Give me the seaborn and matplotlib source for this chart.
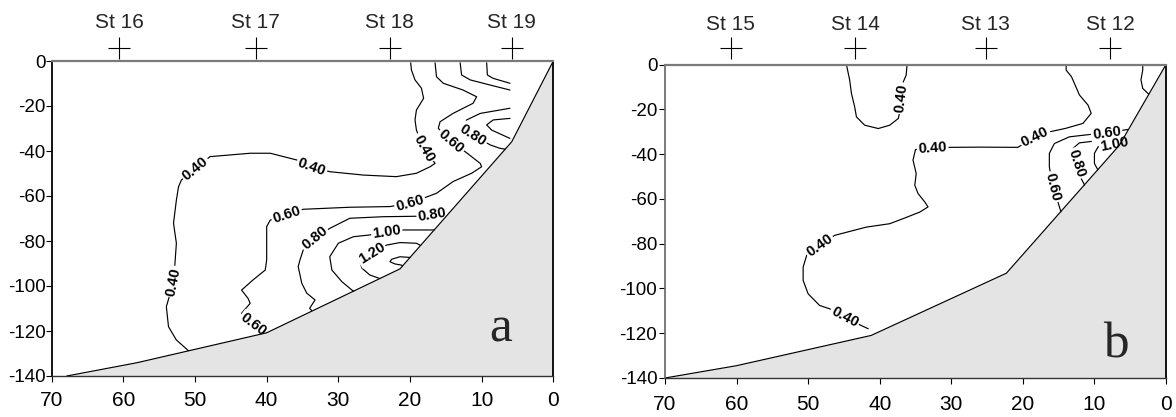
import numpy as np
import matplotlib
matplotlib.use("Agg")
import matplotlib.pyplot as plt
import matplotlib.transforms as mtransforms
import seaborn as sns

sns.set_theme(style="white")
plt.rcParams["font.family"] = ["Liberation Sans", "DejaVu Sans"]

# ---------------- data: panel a ----------------
stations_a = ["St 16", "St 17", "St 18", "St 19"]
station_x_a = [60.6, 41.5, 22.8, 5.8]
bottom_a = [(67.9, -140.0), (58.1, -134.1), (40.0, -120.8), (21.4, -92.4), (5.8, -35.9), (0.0, 0.0)]

A_040 = [(19.9, -0.8), (19.8, -4.0), (19.3, -8.4), (18.4, -12.1), (18.1, -16.6), (19.1, -21.8),
         (19.3, -26.2), (19.1, -30.7), (18.1, -38.8), (16.5, -45.5), (17.2, -47.0), (19.1, -49.9),
         (21.9, -51.4), (26.5, -50.7), (31.2, -49.2), (33.7, -47.0), (35.8, -44.0), (39.5, -41.0),
         (42.3, -41.0), (47.9, -42.5), (50.0, -47.7), (51.9, -52.9), (52.3, -55.9), (52.6, -61.8),
         (53.0, -72.1), (52.6, -81.0), (52.8, -89.9), (53.0, -98.1), (54.0, -109.2), (53.7, -118.1),
         (52.6, -124.0), (50.9, -128.8)]
A_060 = [(16.5, -0.8), (16.3, -7.0), (15.35, -9.9), (12.6, -12.9), (10.7, -15.9), (11.2, -18.8),
         (14.0, -23.3), (15.8, -27.0), (16.05, -29.9), (14.3, -35.9), (12.3, -40.3), (10.2, -45.5),
         (10.0, -47.0), (11.4, -49.9), (14.0, -53.6), (16.3, -58.8), (20.0, -63.2), (22.8, -64.7),
         (28.4, -65.0), (34.9, -65.9), (37.2, -68.4), (39.5, -70.7), (40.0, -73.6), (40.0, -76.6),
         (40.0, -88.4), (40.2, -92.9), (41.9, -97.3), (43.5, -101.8), (42.6, -105.5), (42.3, -107.7),
         (43.5, -112.1), (41.9, -117.3), (40.0, -120.5)]
A_080a = [(13.0, -0.8), (12.8, -6.2), (11.6, -8.4), (8.8, -10.7), (6.05, -12.9)]
A_080b = [(6.05, -21.0), (10.2, -23.3), (12.1, -26.2), (12.8, -29.2), (11.2, -32.9), (8.8, -37.3),
          (7.45, -38.8), (6.7, -39.2)]
A_080c = [(14.9, -66.9), (16.9, -68.2), (19.0, -69.0), (23.7, -69.2), (28.4, -69.9), (31.2, -74.4),
          (33.3, -78.8), (34.9, -84.0), (35.35, -88.4), (35.6, -91.4), (35.1, -98.8), (34.4, -103.2),
          (33.25, -106.2), (34.0, -109.9), (33.7, -111.0)]
A_100a = [(9.3, -0.8), (9.2, -6.2), (8.4, -7.7), (6.05, -9.9)]
A_100b = [(6.05, -25.5), (8.4, -26.2), (9.3, -28.4), (8.6, -30.7), (6.05, -34.4)]
A_100c = [(16.6, -75.1), (20.9, -75.1), (23.25, -75.9), (25.6, -77.3), (27.9, -78.1), (30.0, -81.0),
          (31.2, -87.0), (30.9, -92.9), (29.5, -98.1), (28.1, -101.8), (27.8, -102.4)]
A_120 = [(18.5, -82.0), (19.1, -81.0), (21.4, -80.7), (23.25, -81.8), (25.35, -85.5), (27.0, -89.2),
         (26.7, -92.1), (25.6, -95.1), (24.2, -96.7)]
A_140 = [(20.0, -87.3), (21.4, -87.0), (22.55, -88.1), (22.8, -89.2), (22.1, -90.2), (21.2, -90.7),
         (21.0, -91.2)]
contours_a = [A_040, A_060, A_080a, A_080b, A_080c, A_100a, A_100b, A_100c, A_120, A_140]
labels_a = [("0.40", 18.1, -38.8, 0), ("0.40", 33.7, -47.0, 0), ("0.40", 50.0, -47.7, 0),
            ("0.40", 53.0, -98.1, 0), ("0.60", 14.3, -35.9, 1), ("0.60", 20.0, -63.2, 1),
            ("0.60", 37.2, -68.4, 1), ("0.60", 41.9, -117.3, 1), ("0.80", 11.2, -32.9, 3),
            ("0.80", 16.9, -68.2, 4), ("0.80", 33.3, -78.8, 4), ("1.00", 23.25, -75.9, 7),
            ("1.20", 25.35, -85.5, 8)]

# ---------------- data: panel b ----------------
stations_b = ["St 15", "St 14", "St 13", "St 12"]
station_x_b = [60.8, 43.4, 25.2, 7.8]
bottom_b = [(70.0, -140.0), (60.0, -134.5), (41.2, -121.0), (22.3, -93.2), (6.5, -36.0), (0.0, 0.0)]

B_040a = [(44.6, -0.8), (44.2, -6.9), (43.95, -12.9), (43.5, -18.9), (43.25, -23.4), (42.1, -27.1),
          (40.2, -28.6), (38.6, -27.1), (37.4, -24.1), (37.2, -21.1), (36.97, -15.1), (36.7, -7.7),
          (36.3, -4.7), (36.2, -0.8)]
B_040b = [(13.95, -0.8), (13.95, -2.5), (13.2, -5.5), (12.8, -8.4), (12.1, -13.6), (10.9, -18.1),
          (10.45, -21.8), (11.6, -26.3), (14.0, -28.5), (16.3, -30.1), (18.3, -32.3), (20.7, -37.0),
          (26.0, -36.9), (30.2, -37.0), (32.6, -37.3), (35.0, -38.0), (35.35, -42.7), (34.9, -48.7),
          (35.1, -53.9), (34.65, -57.6), (33.7, -61.4), (33.25, -63.6), (34.4, -65.9), (36.7, -68.8),
          (38.6, -71.1), (41.85, -72.6), (46.3, -76.3), (48.4, -80.8), (50.2, -85.2), (50.7, -90.5),
          (50.7, -96.4), (50.0, -102.4), (48.4, -107.6), (47.0, -109.1), (44.9, -112.8),
          (42.55, -116.6), (41.6, -118.0)]
B_040c = [(3.25, -0.8), (3.25, -2.5), (3.5, -6.9), (3.25, -10.7), (2.4, -13.3)]
B_060 = [(5.3, -29.0), (8.3, -30.5), (10.2, -31.1), (13.5, -32.3), (15.6, -35.3), (16.3, -39.7),
         (16.3, -45.7), (15.8, -54.7), (15.1, -61.4), (14.6, -66.6)]
B_080 = [(7.5, -32.5), (9.75, -34.1), (12.1, -35.0), (13.0, -37.5), (13.1, -39.7), (12.55, -44.2),
         (12.1, -49.4), (11.3, -54.3)]
B_100 = [(6.3, -34.8), (7.2, -35.5), (9.5, -36.8), (10.0, -39.7), (10.0, -44.2), (9.5, -47.2)]
contours_b = [B_040a, B_040b, B_040c, B_060, B_080, B_100]
labels_b = [("0.40", 36.97, -15.1, 0), ("0.40", 18.3, -32.3, 1), ("0.40", 32.6, -37.3, 1),
            ("0.40", 48.4, -80.8, 1), ("0.40", 44.9, -112.8, 1), ("0.60", 8.3, -30.5, 3),
            ("0.60", 15.8, -54.7, 3), ("0.80", 12.55, -44.2, 4), ("1.00", 7.2, -35.5, 5)]

x_ticks = [70, 60, 50, 40, 30, 20, 10, 0]
y_ticks = [0, -20, -40, -60, -80, -100, -120, -140]


def label_angle(ax, line, lx, ly):
    pts = np.array(line, dtype=float)
    i = int(np.argmin(np.hypot(pts[:, 0] - lx, pts[:, 1] - ly)))
    i0, i1 = max(i - 1, 0), min(i + 1, len(pts) - 1)
    p0 = ax.transData.transform(pts[i0])
    p1 = ax.transData.transform(pts[i1])
    ang = np.degrees(np.arctan2(p1[1] - p0[1], p1[0] - p0[0]))
    if ang > 90:
        ang -= 180
    if ang < -90:
        ang += 180
    return ang


def draw_panel(ax, bottom, contours, labels, stations, station_x, letter, letter_xy,
               mark_y, name_y, xpad, ypad):
    ax.set_xlim(70, 0)
    ax.set_ylim(-140, 0)
    for line in contours:
        xs = [p[0] for p in line]
        ys = [p[1] for p in line]
        sns.lineplot(x=xs, y=ys, sort=False, estimator=None, color="black",
                     linewidth=0.85, ax=ax, zorder=2)
    bx = [p[0] for p in bottom]
    by = [p[1] for p in bottom]
    ax.fill_between(bx, by, -140, color="#e4e4e4", zorder=4, linewidth=0)
    ax.plot(bx, by, color="black", linewidth=0.85, zorder=4)

    for txt, lx, ly, ci in labels:
        ang = label_angle(ax, contours[ci], lx, ly)
        kw = dict(ha="center", va="center", rotation=ang, rotation_mode="anchor",
                  fontsize=10.5, fontweight="bold")
        ax.text(lx, ly, txt, color="white", zorder=3,
                bbox=dict(boxstyle="square,pad=0.1", fc="white", ec="none"), **kw)
        ax.text(lx, ly, txt, color="black", zorder=6, **kw)

    trans = mtransforms.blended_transform_factory(ax.transData, ax.transAxes)
    ax.plot(station_x, [mark_y] * len(station_x), linestyle="none", marker="+",
            markersize=16, markeredgewidth=0.8, color="black", transform=trans, clip_on=False)
    for s, sx in zip(stations, station_x):
        ax.text(sx, name_y, s, transform=trans, ha="center", va="center", fontsize=15)

    ax.text(letter_xy[0], letter_xy[1], letter, fontsize=37, family="Liberation Serif",
            ha="center", va="baseline", zorder=7)

    ax.set_xticks(x_ticks)
    ax.set_xticklabels([str(v) for v in x_ticks])
    ax.set_yticks(y_ticks)
    ax.set_yticklabels([str(v) for v in y_ticks])
    ax.tick_params(axis="x", bottom=True, direction="out", length=4, width=0.8,
                   pad=xpad, labelsize=15, colors="black")
    ax.tick_params(axis="y", left=True, direction="out", length=4, width=0.8,
                   pad=ypad, labelsize=13.5, colors="black")
    ax.grid(False)
    ax.set_xlabel("")
    ax.set_ylabel("")


fig = plt.figure(figsize=(11.76, 4.17), dpi=100)
fig.patch.set_facecolor("white")
axA = fig.add_axes([51.7 / 1176, 1 - 376 / 417, 501.6 / 1176, 315 / 417])
axB = fig.add_axes([665 / 1176, 1 - 378 / 417, 501 / 1176, 313.5 / 417])

draw_panel(axA, bottom_a, contours_a, labels_a, stations_a, station_x_a, "a", (7.4, -124.6),
           1.042, 1.122, 7, 0.5)
draw_panel(axB, bottom_b, contours_b, labels_b, stations_b, station_x_b, "b", (7.0, -130.7),
           1.052, 1.128, 8, 1.5)

for ax, left_col in ((axA, "black"), (axB, "#707070")):
    ax.spines["top"].set_color("#7a7a7a")
    ax.spines["top"].set_linewidth(1.6)
    ax.spines["left"].set_color(left_col)
    ax.spines["left"].set_linewidth(1.3)
    ax.spines["right"].set_color("black")
    ax.spines["right"].set_linewidth(1.3)
    ax.spines["bottom"].set_color("#333333")
    ax.spines["bottom"].set_linewidth(1.0)
    for sp in ax.spines.values():
        sp.set_zorder(8)

fig.savefig("out.png", dpi=100, facecolor="white")
